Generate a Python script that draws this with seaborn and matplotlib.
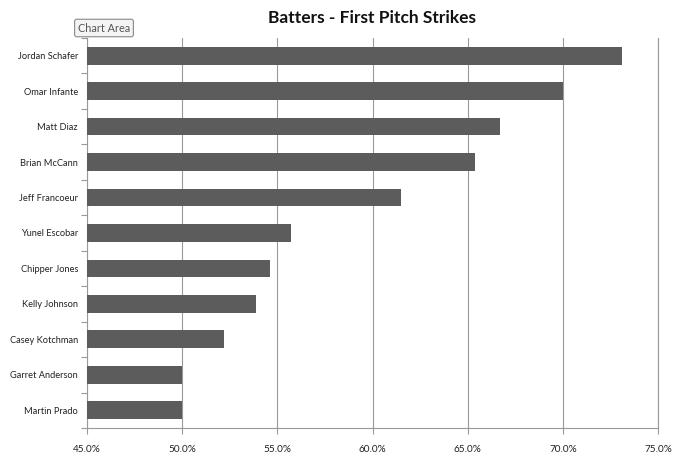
import matplotlib
matplotlib.use("Agg")
import matplotlib.pyplot as plt
import seaborn as sns
import pandas as pd
from matplotlib.ticker import FuncFormatter, FixedLocator

players = ["Jordan Schafer", "Omar Infante", "Matt Diaz", "Brian McCann",
           "Jeff Francoeur", "Yunel Escobar", "Chipper Jones", "Kelly Johnson",
           "Casey Kotchman", "Garret Anderson", "Martin Prado"]
strike_pct = [73.1, 70.0, 66.7, 65.4, 61.5, 55.7, 54.6, 53.9, 52.2, 50.0, 50.0]
x_ticks = [45, 50, 55, 60, 65, 70, 75]

sns.set_theme(style="white")
plt.rcParams['font.family'] = ['Lato', 'DejaVu Sans']

df = pd.DataFrame({"player": players, "pct": strike_pct})

fig = plt.figure(figsize=(6.8, 4.58), dpi=100)
ax = fig.add_axes([87/680, 1-428/458, (658-87)/680, (428-38)/458])

sns.barplot(data=df, x="pct", y="player", orient="h", color="#5c5c5c",
            saturation=1, width=0.5, ax=ax, zorder=3, linewidth=0)

grid_c = "#999999"
ax.set_xlim(45, 75)
ax.xaxis.set_major_locator(FixedLocator(x_ticks))
ax.xaxis.set_major_formatter(FuncFormatter(lambda v, p: f"{v:.1f}%"))
ax.grid(axis="x", color=grid_c, linewidth=0.8, zorder=0)
ax.set_axisbelow(True)
ax.set_xlabel("")
ax.set_ylabel("")
ax.spines["top"].set_visible(False)
for s in ["left", "bottom", "right"]:
    ax.spines[s].set_color(grid_c)
    ax.spines[s].set_linewidth(0.8)

ax.tick_params(axis="x", labelsize=7.2, labelcolor="#222222", length=4, width=0.8,
               direction="out", bottom=True, pad=8, color=grid_c)
ax.tick_params(axis="y", labelsize=6.7, length=0, pad=6.5, labelcolor="#222222")
ax.set_yticks([i + 0.5 for i in range(-1, len(players))], minor=True)
ax.tick_params(axis="y", which="minor", length=4, width=0.8, color=grid_c, left=True)
ax.set_ylim(len(players) - 0.5, -0.5)

ax.set_title("Batters - First Pitch Strikes", fontsize=12.5, fontweight="bold",
             color="#111111", pad=11)

fig.text(104/680, 1-28/458, "Chart Area", fontsize=7.8, color="#555555",
         ha="center", va="center",
         bbox=dict(boxstyle="round,pad=0.3,rounding_size=0.2", fc="#f4f4f4",
                   ec="#888888", lw=0.8))

fig.savefig("out.png", dpi=100)
